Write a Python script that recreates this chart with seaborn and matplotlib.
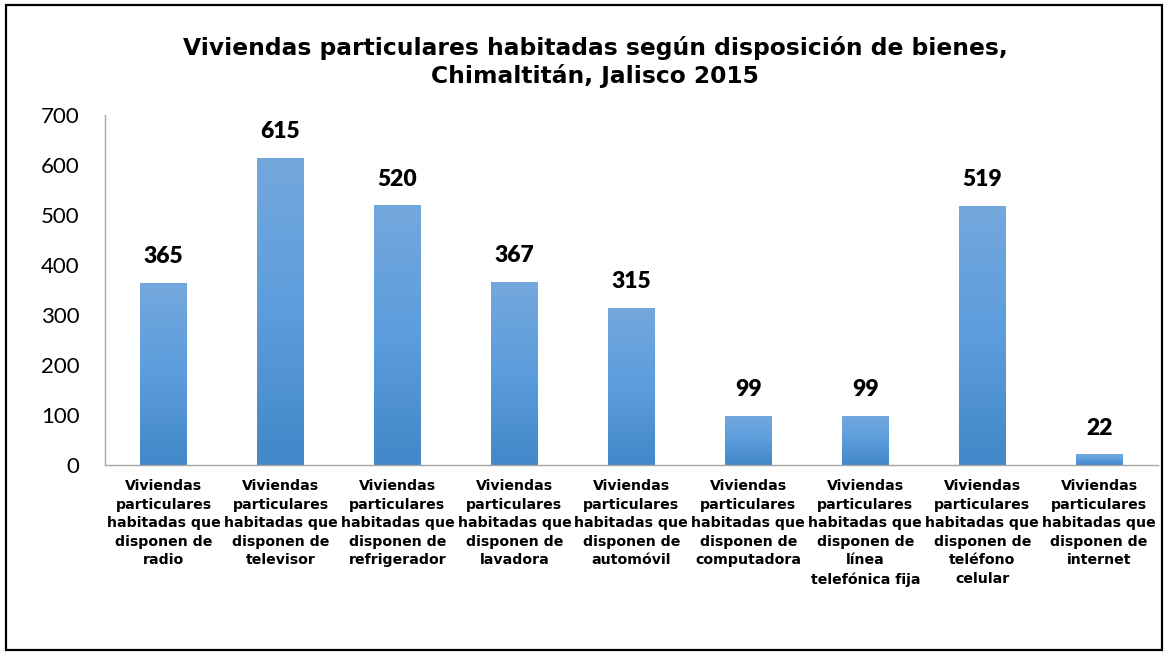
import numpy as np
import pandas as pd
import matplotlib
matplotlib.use("Agg")
import matplotlib.pyplot as plt
import seaborn as sns
from matplotlib.patches import Rectangle
from matplotlib.colors import LinearSegmentedColormap

categories = [
    "Viviendas\nparticulares\nhabitadas que\ndisponen de\nradio",
    "Viviendas\nparticulares\nhabitadas que\ndisponen de\ntelevisor",
    "Viviendas\nparticulares\nhabitadas que\ndisponen de\nrefrigerador",
    "Viviendas\nparticulares\nhabitadas que\ndisponen de\nlavadora",
    "Viviendas\nparticulares\nhabitadas que\ndisponen de\nautomóvil",
    "Viviendas\nparticulares\nhabitadas que\ndisponen de\ncomputadora",
    "Viviendas\nparticulares\nhabitadas que\ndisponen de\nlínea\ntelefónica fija",
    "Viviendas\nparticulares\nhabitadas que\ndisponen de\nteléfono\ncelular",
    "Viviendas\nparticulares\nhabitadas que\ndisponen de\ninternet",
]
values = [365, 615, 520, 367, 315, 99, 99, 519, 22]
yticks = [0, 100, 200, 300, 400, 500, 600, 700]
title = "Viviendas particulares habitadas según disposición de bienes,\nChimaltitán, Jalisco 2015"

sns.set_style("white")
plt.rcParams['font.family'] = ['DejaVu Sans']
plt.rcParams['text.color'] = 'black'
plt.rcParams['xtick.color'] = 'black'
plt.rcParams['ytick.color'] = 'black'

df = pd.DataFrame({"cat": categories, "val": values})

fig = plt.figure(figsize=(11.67, 6.54), dpi=100)
ax = fig.add_axes([0.090, 0.289, 0.902, 0.535])

sns.barplot(data=df, x="cat", y="val", ax=ax, color="#5B9BD5", width=0.40,
            saturation=1, edgecolor="none")

cmap = LinearSegmentedColormap.from_list("g", ["#4387C8", "#5C9DDC", "#74A8DC"])
grad = np.linspace(0, 1, 256).reshape(-1, 1)
for p in ax.patches:
    x0, y0 = p.get_x(), p.get_y()
    w, h = p.get_width(), p.get_height()
    im = ax.imshow(grad, cmap=cmap, aspect="auto", origin="lower",
                   extent=[x0, x0 + w, y0, y0 + h], zorder=p.get_zorder() + 0.1)
    im.set_clip_path(p)

ax.set_xlim(-0.5, len(categories) - 0.5)
ax.set_ylim(0, 700)
ax.set_yticks(yticks)
ax.set_yticklabels([str(t) for t in yticks], fontfamily="Lato", fontsize=16,
                   color="black")
ax.tick_params(axis="y", length=0, pad=18.5)
ax.tick_params(axis="x", length=0, pad=10)
for lbl in ax.get_xticklabels():
    lbl.set_fontweight("bold")
    lbl.set_fontsize(10.2)
    lbl.set_linespacing(1.42)
    lbl.set_color("black")
ax.set_xlabel("")
ax.set_ylabel("")

for s in ["top", "right"]:
    ax.spines[s].set_visible(False)
for s in ["left", "bottom"]:
    ax.spines[s].set_color("#A6A6A6")
    ax.spines[s].set_linewidth(1.0)

for i, v in enumerate(values):
    ax.annotate(str(v), (i, v), xytext=(0, 11), textcoords="offset points",
                ha="center", va="bottom", fontsize=16.5, fontweight="heavy",
                fontfamily="Lato", color="black")

fig.text(0.51, 0.905, title, ha="center", va="center", fontsize=16.8,
         fontweight="bold", linespacing=1.2, color="black")

fig.patches.append(Rectangle((0.005, 0.006), 0.991, 0.987, transform=fig.transFigure,
                             fill=False, edgecolor="black", linewidth=1.6))

fig.savefig("out.png", dpi=100)
